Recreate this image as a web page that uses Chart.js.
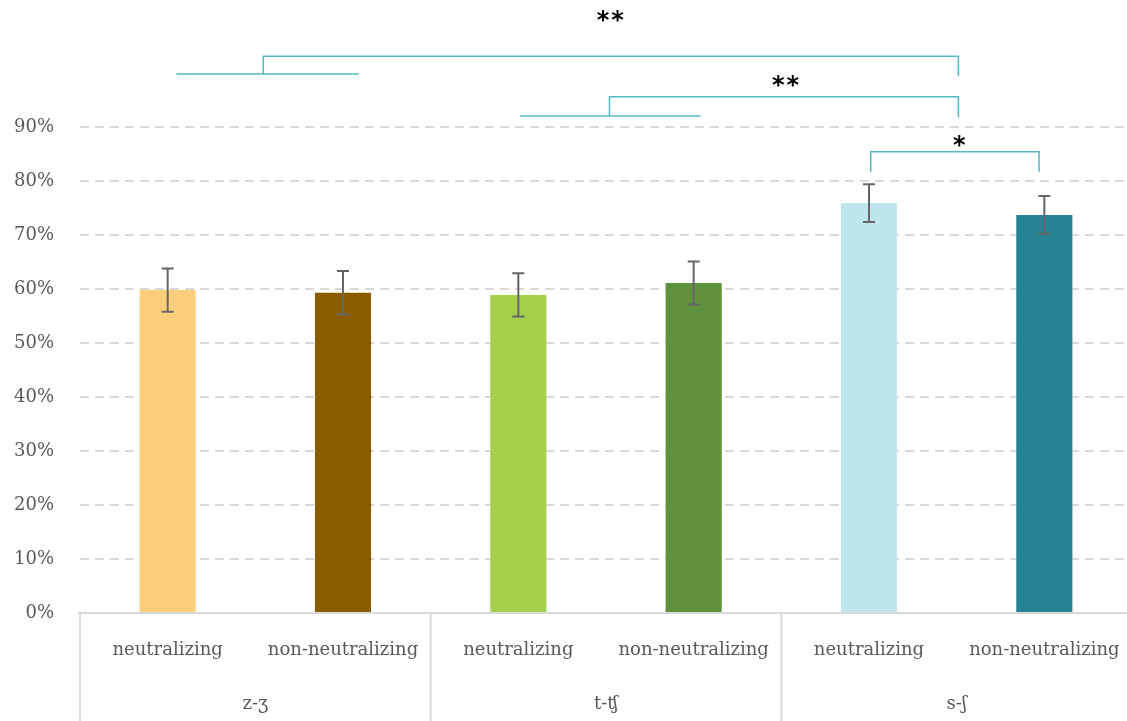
<!DOCTYPE html>
<html>
<head>
<meta charset="utf-8">
<script src="https://cdn.jsdelivr.net/npm/chart.js@4.4.1/dist/chart.umd.min.js"></script>
<style>
  html, body { margin: 0; padding: 0; background: #ffffff; overflow: hidden; }
  /* the plot runs a few pixels past the right edge of the page */
  #wrap { width: 1132px; height: 721px; position: relative; }
</style>
</head>
<body>
<div id="wrap"><canvas id="chart"></canvas></div>
<script>
// Contrast groups and conditions
const groups = ['z-ʒ', 't-ʧ', 's-ʃ'];
const conditions = ['neutralizing', 'non-neutralizing'];

// Mean accuracy (%) per group × condition, in group order
const accuracy = [59.8, 59.3, 58.9, 61.1, 75.9, 73.7];
// Half-width of the error bars (%)
const errorMargin = [4.0, 4.0, 4.0, 4.0, 3.5, 3.5];

// Y-axis tick values (%)
const yTicks = [0, 10, 20, 30, 40, 50, 60, 70, 80, 90];

// Significance markers
const sigLabels = ['**', '**', '*'];

const barColors = ['#FCD07B', '#8A5C00', '#A4D04C', '#60913D', '#BFE6EE', '#258395'];
const FONT = "'DejaVu Serif', serif";
const TEXT_COLOR = '#595959';
const LINE_COLOR = '#d9d9d9';
const BRACKET_COLOR = '#55b8c5';
const Y_MIN = 0;
const Y_MAX = 113.5;

const labels = [];
groups.forEach(() => conditions.forEach(c => labels.push(c)));

// Bracket geometry in data units (x: category index, y: percent)
const bracketSpecs = [
  { base: [0.05, 1.09, 99.8], left: 0.545, right: 4.51, top: 103.1, rightEnd: 99.4, text: [2.53, 110.9] },
  { base: [2.01, 3.04, 92.0], left: 2.52, right: 4.51, top: 95.6, rightEnd: 91.8, text: [3.53, 98.9] },
  { left: 4.01, right: 4.97, top: 85.4, leftEnd: 81.7, rightEnd: 81.7, text: [4.52, 87.8] }
];

const errorBarPlugin = {
  id: 'errorBars',
  afterDatasetsDraw(chart) {
    const { ctx, scales: { x, y } } = chart;
    ctx.save();
    ctx.strokeStyle = '#666666';
    ctx.lineWidth = 2;
    accuracy.forEach((v, i) => {
      const px = x.getPixelForValue(i);
      const hi = y.getPixelForValue(v + errorMargin[i]);
      const lo = y.getPixelForValue(v - errorMargin[i]);
      ctx.beginPath();
      ctx.moveTo(px, hi); ctx.lineTo(px, lo);
      ctx.moveTo(px - 6, hi); ctx.lineTo(px + 6, hi);
      ctx.moveTo(px - 6, lo); ctx.lineTo(px + 6, lo);
      ctx.stroke();
    });
    ctx.restore();
  }
};

const bracketPlugin = {
  id: 'brackets',
  afterDatasetsDraw(chart) {
    const { ctx, scales: { x, y } } = chart;
    const X = v => x.getPixelForValue(v);
    const Y = v => y.getPixelForValue(v);
    ctx.save();
    ctx.strokeStyle = BRACKET_COLOR;
    ctx.lineWidth = 1.5;
    bracketSpecs.forEach((b, k) => {
      ctx.beginPath();
      if (b.base) {
        ctx.moveTo(X(b.base[0]), Y(b.base[2]));
        ctx.lineTo(X(b.base[1]), Y(b.base[2]));
        ctx.moveTo(X(b.left), Y(b.base[2]));
      } else {
        ctx.moveTo(X(b.left), Y(b.leftEnd));
      }
      ctx.lineTo(X(b.left), Y(b.top));
      ctx.lineTo(X(b.right), Y(b.top));
      ctx.lineTo(X(b.right), Y(b.rightEnd));
      ctx.stroke();
      ctx.fillStyle = '#000000';
      ctx.font = "bold 24px 'DejaVu Sans', sans-serif";
      if ('letterSpacing' in ctx) ctx.letterSpacing = '2px';
      ctx.textAlign = 'center';
      ctx.textBaseline = 'alphabetic';
      ctx.fillText(sigLabels[k], X(b.text[0]), Y(b.text[1]) + 14);
    });
    ctx.restore();
  }
};

const categoryBoxPlugin = {
  id: 'categoryBox',
  afterDraw(chart) {
    const { ctx, chartArea, scales: { x } } = chart;
    const bottom = chart.height;
    ctx.save();
    ctx.strokeStyle = LINE_COLOR;
    ctx.lineWidth = 2;
    ctx.beginPath();
    ctx.moveTo(chartArea.left - 2, chartArea.bottom);
    ctx.lineTo(chartArea.right, chartArea.bottom);
    for (let g = 0; g < groups.length; g++) {
      const bx = x.getPixelForValue(g * conditions.length - 0.5);
      ctx.moveTo(bx, chartArea.bottom);
      ctx.lineTo(bx, bottom);
    }
    ctx.stroke();
    ctx.fillStyle = TEXT_COLOR;
    ctx.font = "18px " + FONT;
    ctx.textAlign = 'center';
    ctx.textBaseline = 'middle';
    groups.forEach((g, i) => {
      const cx = x.getPixelForValue(i * conditions.length + (conditions.length - 1) / 2);
      ctx.fillText(g, cx, chartArea.bottom + 91);
    });
    ctx.restore();
  }
};

new Chart(document.getElementById('chart'), {
  type: 'bar',
  data: {
    labels: labels,
    datasets: [{
      data: accuracy,
      backgroundColor: barColors,
      borderWidth: 0,
      categoryPercentage: 1,
      barPercentage: 0.32
    }]
  },
  options: {
    responsive: true,
    maintainAspectRatio: false,
    animation: false,
    layout: { padding: 0 },
    plugins: { legend: { display: false }, tooltip: { enabled: false } },
    scales: {
      x: {
        grid: { display: false },
        border: { display: false },
        ticks: { color: TEXT_COLOR, font: { family: FONT, size: 18 }, padding: 19, maxRotation: 0, autoSkip: false },
        afterFit(scale) {
          scale.height = 108;
          scale.paddingLeft = 0;
          scale.paddingRight = 0;
        }
      },
      y: {
        min: Y_MIN,
        max: Y_MAX,
        afterBuildTicks(scale) {
          scale.ticks = yTicks.map(v => ({ value: v }));
          scale.min = Y_MIN;
          scale.max = Y_MAX;
        },
        ticks: { color: TEXT_COLOR, font: { family: FONT, size: 18 }, padding: 26, callback: v => v + '%' },
        grid: { color: LINE_COLOR, lineWidth: 2, drawTicks: false },
        border: { display: false, dash: [9, 6] },
        afterFit(scale) {
          scale.width = 80;
          scale.paddingTop = 0;
          scale.paddingBottom = 0;
        }
      }
    }
  },
  plugins: [errorBarPlugin, bracketPlugin, categoryBoxPlugin]
});
</script>
</body>
</html>
